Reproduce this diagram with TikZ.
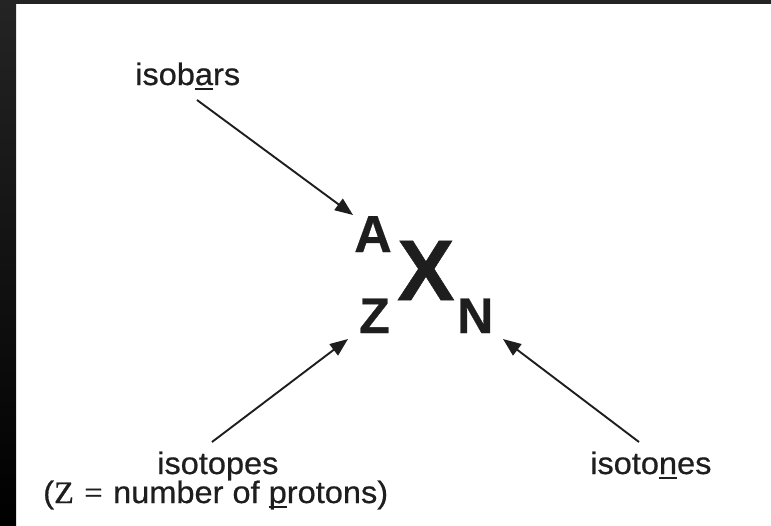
\documentclass[tikz,border=0pt]{standalone}
\usepackage{fontspec}
\setmainfont[FakeBold=0.6]{Liberation Sans}
\newfontfamily\serifz[FakeBold=0.6]{Liberation Serif}
\usetikzlibrary{arrows.meta}
\newcommand\ulx[1]{\setbox0\hbox{#1}\rlap{\rule[-0.16em]{\wd0}{0.07em}}#1}
\definecolor{ink}{HTML}{1E1E1E}
\definecolor{frametop}{HTML}{242424}
\tikzset{
  lbl/.style={inner sep=0pt, anchor=base west, font=\fontsize{31}{36}\selectfont\bfseries, text=ink, xscale=1.05},
  sym/.style={inner sep=0pt, anchor=base west, text=ink},
  arr/.style={draw=ink, line width=1.9pt, -{Triangle[length=18pt,width=14pt]}},
}
\begin{document}
\begin{tikzpicture}[x=1pt,y=-1pt]
\useasboundingbox (0,0) rectangle (771,525);
\fill[white] (0,0) rectangle (771,525);
\shade[top color=frametop, bottom color=black] (0,0) rectangle (16,525);
\fill[frametop] (0,0) rectangle (771,4);

\node[lbl, font=\fontsize{31}{36}\selectfont] (isobars) at (135,85) {isob\ulx{a}rs};
\node[lbl, font=\fontsize{31}{36}\selectfont] (isotopes) at (157,474) {isotopes};
\node[lbl, font=\fontsize{31}{36}\selectfont] (protons) at (43,503) {(\serifz Z\hspace{0.32em}=\hspace{0.32em}\normalfont number of \ulx{p}rotons)};
\node[lbl, font=\fontsize{31}{36}\selectfont] (isotones) at (590,474) {isoto\ulx{n}es};

\node[sym, font=\fontsize{52}{60}\selectfont\bfseries] (A) at (354,252) {A};
\node[sym, font=\fontsize{86}{96}\selectfont\bfseries] (X) at (397,300) {X};
\node[sym, font=\fontsize{50}{58}\selectfont\bfseries] (Z) at (359,333) {Z};
\node[sym, font=\fontsize{50}{58}\selectfont\bfseries] (N) at (457,333) {N};

\coordinate (s1) at (197,100);
\coordinate (t1) at (353,215);
\coordinate (s2) at (212,442);
\coordinate (t2) at (348,339);
\coordinate (s3) at (639,442);
\coordinate (t3) at (503,339);

\draw[arr] (s1) -- (t1);
\draw[arr] (s2) -- (t2);
\draw[arr] (s3) -- (t3);
\end{tikzpicture}
\end{document}
